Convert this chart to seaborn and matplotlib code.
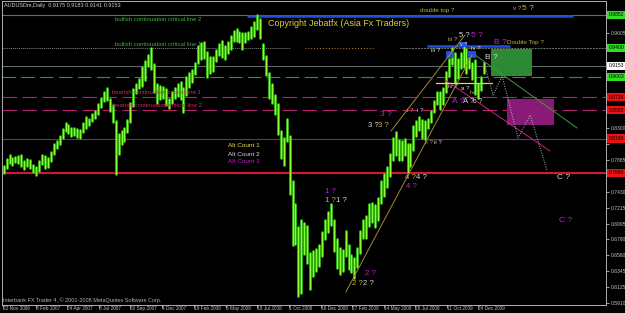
import numpy as np
import pandas as pd
import matplotlib
matplotlib.use("Agg")
import matplotlib.pyplot as plt
import seaborn as sns
from matplotlib.patches import Rectangle
from matplotlib.transforms import blended_transform_factory

# ---------------- data (AUDUSD, weekly high / low) ----------------
week_start = "2006-11-20"
week_high = [0.7790, 0.7880, 0.7930, 0.7900, 0.7910, 0.7920, 0.7930, 0.7850, 0.7880, 0.7870,
             0.7800, 0.7770, 0.7850, 0.7930, 0.7920, 0.7890, 0.7970, 0.8080, 0.8130, 0.8190,
             0.8290, 0.8370, 0.8350, 0.8300, 0.8300, 0.8290, 0.8270, 0.8370, 0.8450, 0.8430,
             0.8500, 0.8530, 0.8630, 0.8710, 0.8790, 0.8850, 0.8700, 0.8620, 0.8400, 0.8220,
             0.8260, 0.8300, 0.8420, 0.8640, 0.8840, 0.8900, 0.8980, 0.9140, 0.9220, 0.9300,
             0.9400, 0.9180, 0.8900, 0.8880, 0.8860, 0.8840, 0.8700, 0.8790, 0.8850, 0.8900,
             0.8930, 0.8850, 0.9000, 0.9060, 0.9100, 0.9200, 0.9420, 0.9460, 0.9480, 0.9350,
             0.9280, 0.9280, 0.9370, 0.9450, 0.9500, 0.9420, 0.9480, 0.9560, 0.9630, 0.9660,
             0.9620, 0.9600, 0.9600, 0.9620, 0.9680, 0.9760, 0.9850, 0.9800, 0.9450, 0.9290,
             0.9050, 0.8900, 0.8760, 0.8630, 0.8260, 0.8170, 0.8430, 0.8200, 0.7580, 0.7270,
             0.6950, 0.7050, 0.7000, 0.6960, 0.6600, 0.6620, 0.6650, 0.6700, 0.6880, 0.7050,
             0.7150, 0.7270, 0.7050, 0.6780, 0.6660, 0.6630, 0.6900, 0.6700, 0.6560, 0.6520,
             0.6660, 0.6900, 0.7050, 0.7100, 0.7260, 0.7280, 0.7250, 0.7340, 0.7580, 0.7680,
             0.7770, 0.7950, 0.8170, 0.8250, 0.8140, 0.8130, 0.8150, 0.8080, 0.8080, 0.8330,
             0.8400, 0.8450, 0.8410, 0.8400, 0.8430, 0.8540, 0.8680, 0.8800, 0.8800, 0.8850,
             0.9070, 0.9250, 0.9400, 0.9330, 0.9250, 0.9330, 0.9410, 0.9380, 0.9300, 0.9200,
             0.9230, 0.8900, 0.9000, 0.9200]
week_low = [0.7690, 0.7760, 0.7830, 0.7800, 0.7840, 0.7830, 0.7790, 0.7740, 0.7790, 0.7750,
            0.7700, 0.7660, 0.7720, 0.7810, 0.7760, 0.7770, 0.7850, 0.7950, 0.8030, 0.8090,
            0.8170, 0.8260, 0.8230, 0.8200, 0.8210, 0.8180, 0.8170, 0.8250, 0.8310, 0.8340,
            0.8400, 0.8440, 0.8500, 0.8590, 0.8680, 0.8690, 0.8540, 0.8390, 0.7680, 0.7950,
            0.8090, 0.8130, 0.8250, 0.8390, 0.8600, 0.8780, 0.8850, 0.8880, 0.8960, 0.9150,
            0.9110, 0.8800, 0.8640, 0.8700, 0.8720, 0.8620, 0.8580, 0.8650, 0.8720, 0.8740,
            0.8700, 0.8520, 0.8750, 0.8860, 0.8930, 0.9040, 0.9200, 0.9250, 0.9260, 0.9000,
            0.9050, 0.9090, 0.9220, 0.9300, 0.9280, 0.9250, 0.9330, 0.9380, 0.9500, 0.9500,
            0.9480, 0.9390, 0.9480, 0.9520, 0.9540, 0.9560, 0.9660, 0.9530, 0.9250, 0.9030,
            0.8720, 0.8640, 0.8500, 0.8220, 0.7900, 0.7800, 0.8130, 0.7400, 0.6700, 0.6720,
            0.6010, 0.6050, 0.6580, 0.6460, 0.6100, 0.6280, 0.6350, 0.6410, 0.6550, 0.6780,
            0.6880, 0.6980, 0.6620, 0.6390, 0.6300, 0.6350, 0.6550, 0.6380, 0.6330, 0.6250,
            0.6400, 0.6600, 0.6800, 0.6800, 0.6960, 0.7020, 0.6950, 0.7050, 0.7280, 0.7380,
            0.7500, 0.7650, 0.7860, 0.7940, 0.7860, 0.7870, 0.7930, 0.7700, 0.7780, 0.8000,
            0.8200, 0.8280, 0.8170, 0.8160, 0.8310, 0.8380, 0.8520, 0.8630, 0.8560, 0.8630,
            0.8800, 0.9020, 0.9180, 0.8930, 0.8990, 0.9120, 0.9140, 0.9060, 0.9120, 0.8980,
            0.8770, 0.8710, 0.8830, 0.9050]

date_ticks = ["2006-11-22", "2007-02-08", "2007-04-24", "2007-07-08", "2007-09-20",
              "2007-12-04", "2008-02-19", "2008-05-05", "2008-07-18", "2008-10-01",
              "2008-12-16", "2009-02-27", "2009-05-14", "2009-07-28", "2009-10-11",
              "2009-12-24"]
date_labels = ["22 Nov 2006", "8 Feb 2007", "24 Apr 2007", "8 Jul 2007", "20 Sep 2007",
               "4 Dec 2007", "19 Feb 2008", "5 May 2008", "18 Jul 2008", "1 Oct 2008",
               "16 Dec 2008", "27 Feb 2009", "14 May 2009", "28 Jul 2009", "11 Oct 2009",
               "24 Dec 2009"]
price_ticks = [0.5910, 0.6125, 0.6345, 0.6560, 0.6780, 0.6995, 0.7215, 0.7430, 0.7650,
               0.7865, 0.8085, 0.8300, 0.8520, 0.8735, 0.8955, 0.9170, 0.9390, 0.9605, 0.9825]

# horizontal levels
bull_line2 = 0.9852
bull_line1 = 0.9400
current_price = 0.9153
green_dash = 0.9003
bear_line1 = 0.8728
bear_line2 = 0.8550
magenta_level = 0.8160
red_support = 0.7690
level_marks = [(bull_line2, "#33dd22"), (bull_line1, "#33dd22"), (current_price, "#ffffff"),
               (green_dash, "#33dd22"), (bear_line1, "#ee1111"), (bear_line2, "#ee1111"),
               (magenta_level, "#ee1111"), (red_support, "#ee1111")]

# ---------------- style ----------------
sns.set_theme(style="dark")
plt.rcParams["font.family"] = ["Liberation Sans", "DejaVu Sans"]
BG = "black"
KHAKI = "#c8b040"
WHITE = "#d8d8d8"
MAG = "#b828c8"
BEAR = "#b8206e"

fig = plt.figure(figsize=(6.25, 3.13), dpi=100, facecolor=BG)
ax = fig.add_axes([2 / 625, 8 / 313, 604 / 625, 304 / 313])
ax.set_facecolor(BG)

t0 = pd.Timestamp(week_start)
idx = np.arange(len(week_high))
df = pd.DataFrame({
    "week": np.repeat(idx, 2),
    "x": np.repeat(idx + 0.5, 2),
    "price": np.ravel(np.column_stack([week_low, week_high])),
})

# ---------------- horizontal levels ----------------
ax.axhline(bull_line2, color="#3a8a3a", lw=0.8, zorder=1)
ax.plot([83.1, 193.6], [0.9836, 0.9836], color="#1f4fd8", lw=1.8, zorder=2, solid_capstyle="butt")
ax.plot([-1, 97.6], [bull_line1, bull_line1], color="#7a8a7a", lw=0.7, ls=(0, (1, 1)), zorder=1)
ax.plot([134.9, 210], [bull_line1, bull_line1], color="#6a7a6a", lw=0.7, ls=(0, (2, 1)), zorder=1)
ax.plot([102.7, 126.5], [bull_line1, bull_line1], color="#d08020", lw=0.7, ls=(0, (1, 2)), zorder=1)
ax.plot([144.1, 172.3], [0.9419, 0.9419], color="#1f4fd8", lw=1.8, zorder=2, solid_capstyle="butt")
ax.axhline(current_price, color="#5a6a6a", lw=0.8, zorder=1)
ax.axhline(green_dash, color="#2a9a2a", lw=0.8, ls=(0, (12, 5)), zorder=1)
ax.axhline(bear_line1, color=BEAR, lw=0.8, ls=(0, (13, 5)), zorder=1)
ax.axhline(bear_line2, color=BEAR, lw=0.8, ls=(0, (13, 5)), zorder=1)
ax.axhline(magenta_level, color="#a01870", lw=0.8, zorder=1)
ax.axhline(red_support, color="#d41a2a", lw=1.5, zorder=1)

# boxes
ax.add_patch(Rectangle((165.8, 0.9015), 13.9, 0.0370, facecolor="#2d8a34", edgecolor="none", zorder=1))
ax.add_patch(Rectangle((171.2, 0.8345), 16.0, 0.0356, facecolor="#8a1a78", edgecolor="none", zorder=1))

# ---------------- price bars ----------------
sns.lineplot(data=df, x="x", y="price", units="week", estimator=None, sort=False,
             color="#36b816", lw=2.0, ax=ax, legend=False, zorder=3)
sns.lineplot(data=df, x="x", y="price", units="week", estimator=None, sort=False,
             color="#86ff30", lw=0.8, ax=ax, legend=False, zorder=3)

# small blue markers
for x0, x1, y0, y1 in [(150.6, 153.3, 0.9262, 0.9357), (157.7, 160.7, 0.9262, 0.9357),
                       (154.9, 157.7, 0.9412, 0.9480)]:
    ax.add_patch(Rectangle((x0, y0), x1 - x0, y1 - y0, facecolor="#1e50dc", edgecolor="none", zorder=4))

# trend lines
ax.plot([116.6, 159.4], [0.6060, 0.9303], color="#a08a30", lw=0.7, zorder=4)
ax.plot([131.9, 157.0], [0.8263, 0.9576], color="#a08a30", lw=0.7, zorder=4)
ax.plot([160.4, 195.0], [0.9303, 0.8304], color="#3a9a3a", lw=0.7, zorder=4)
ax.plot([150.2, 185.8], [0.8961, 0.7989], color="#c02880", lw=0.7, zorder=4)
ax.plot([147.2, 166.2], [0.8920, 0.8920], color="#e8e030", lw=0.9, zorder=4)
proj_x = [163.4, 166.5, 169.6, 175.0, 179.1, 184.8]
proj_y = [0.9207, 0.8755, 0.9015, 0.8167, 0.8482, 0.7729]
ax.plot(proj_x, proj_y, color="#b8b8b8", lw=0.7, ls=(0, (1, 1.5)), zorder=4)

# ---------------- texts ----------------
def txt(x, y, s, c, fs=4.4, **kw):
    ax.text(x, y, s, color=c, fontsize=fs, ha="left", va="center", zorder=6, **kw)

txt(90.2, 0.9727, "Copyright Jebatfx (Asia Fx Traders)", "#d8d040", fs=6.4)
txt(38.3, 0.9795, "bullish continuation critical line 2", "#3cae3c", fs=4.3)
txt(38.3, 0.9453, "bullish continuation critical line 1", "#3cae3c", fs=4.3)
txt(37.3, 0.8783, "bearish continuation critical line 1", "#c82a5a", fs=4.3)
txt(37.6, 0.8605, "bearish continuation critical line 2", "#c82a5a", fs=4.3)
txt(76.6, 0.8058, "Alt Count 1", "#f0e050", fs=4.6)
txt(76.6, 0.7948, "Alt Count 2", WHITE, fs=4.6)
txt(76.6, 0.7839, "Alt Count 3", "#c020c0", fs=4.6)
txt(141.8, 0.9918, "double top ?", KHAKI, fs=4.5)
txt(173.3, 0.9932, "v ?", KHAKI, fs=4.5)
txt(176.2, 0.9932, "5 ?", KHAKI, fs=6.0)

wave_labels = [
    ("iii ?", 151.2, 0.9508, KHAKI, 4.4), ("5 ?", 155.0, 0.9563, WHITE, 5.6),
    ("5 ?", 159.0, 0.9576, MAG, 6.0), ("v ?", 155.3, 0.9453, WHITE, 4.0),
    ("iii ?", 145.5, 0.9371, WHITE, 4.4), ("iv ?", 159.0, 0.9385, WHITE, 4.4),
    ("B ?", 166.8, 0.9480, MAG, 6.0), ("Double Top ?", 171.2, 0.9480, KHAKI, 4.6),
    ("B ?", 163.8, 0.9275, WHITE, 6.0), ("iv ?", 151.2, 0.8865, WHITE, 4.4),
    ("a ?", 155.6, 0.8851, WHITE, 4.4), ("iv ?", 158.7, 0.8783, KHAKI, 4.4),
    ("A ?", 152.6, 0.8673, MAG, 6.0), ("A ?", 156.3, 0.8673, WHITE, 5.6),
    ("c ?", 159.7, 0.8673, WHITE, 5.0), ("3 ?", 128.2, 0.8482, MAG, 6.0),
    ("3 ?", 124.1, 0.8345, WHITE, 5.6), ("3 ?", 127.5, 0.8345, KHAKI, 5.6),
    ("i ?", 137.4, 0.8550, KHAKI, 4.4), ("i ?", 140.7, 0.8550, WHITE, 4.4),
    ("ii ?", 143.4, 0.8099, KHAKI, 4.4), ("ii ?", 146.5, 0.8099, WHITE, 4.4),
    ("4 ?", 136.7, 0.7620, KHAKI, 5.6), ("4 ?", 140.4, 0.7620, WHITE, 5.6),
    ("4 ?", 137.0, 0.7497, MAG, 5.6), ("1 ?", 109.5, 0.7442, MAG, 5.6),
    ("1 ?", 109.5, 0.7319, KHAKI, 5.6), ("1 ?", 113.2, 0.7319, WHITE, 5.6),
    ("2 ?", 123.1, 0.6307, MAG, 5.6), ("2 ?", 118.7, 0.6170, KHAKI, 5.6),
    ("2 ?", 122.4, 0.6170, WHITE, 5.6), ("C ?", 188.2, 0.7620, WHITE, 6.0),
    ("C ?", 188.9, 0.7032, MAG, 6.0),
]
for s, x, y, c, fs in wave_labels:
    txt(x, y, s, c, fs=fs)

fig.text(4 / 625, 1 - 5 / 313, "AUDUSDm,Daily  0.9175 0.9183 0.9141 0.9153",
         color="#d0d0d0", fontsize=4.0, ha="left", va="center")
fig.text(3 / 625, 1 - 300 / 313, "Interbank FX Trader 4, \u00a9 2001-2008 MetaQuotes Software Corp.",
         color="#b0b0b0", fontsize=4.0, ha="left", va="center")

# ---------------- axes ----------------
ax.set_xlim(-0.053, 204.83)
ax.set_ylim(0.58826, 1.00414)
xt = [(pd.Timestamp(d) - t0).days / 7 for d in date_ticks]
ax.set_xticks(xt)
ax.set_xticklabels(date_labels)
for lbl in ax.get_xticklabels():
    lbl.set_horizontalalignment("left")
ax.tick_params(axis="x", direction="out", length=2.2, width=0.6, colors="#c0c0c0",
               labelsize=3.4, pad=-1.6, bottom=True)
ax.yaxis.tick_right()
ax.set_yticks(price_ticks)
hidden = [any(abs(v - lv) < 0.008 for lv, _ in level_marks) for v in price_ticks]
ax.set_yticklabels(["" if h else f"{v:.4f}" for v, h in zip(price_ticks, hidden)])
ax.tick_params(axis="y", direction="out", length=2, width=0.6, colors="#c0c0c0",
               labelsize=3.6, pad=1.2, right=True, left=False)
ax.set_xlabel("")
ax.set_ylabel("")
ax.grid(False)
for side in ["left", "bottom", "right", "top"]:
    ax.spines[side].set_visible(True)
    ax.spines[side].set_color("#b0b0b0")
    ax.spines[side].set_linewidth(0.7)

trans = blended_transform_factory(ax.transAxes, ax.transData)
for v, c in level_marks:
    ax.text(1.0045, v, f"{v:.4f}", transform=trans, color="black", fontsize=3.6,
            ha="left", va="center", clip_on=False, zorder=10,
            bbox=dict(boxstyle="square,pad=0.35", facecolor=c, edgecolor="none"))

fig.savefig("out.png", dpi=100, facecolor=BG)
